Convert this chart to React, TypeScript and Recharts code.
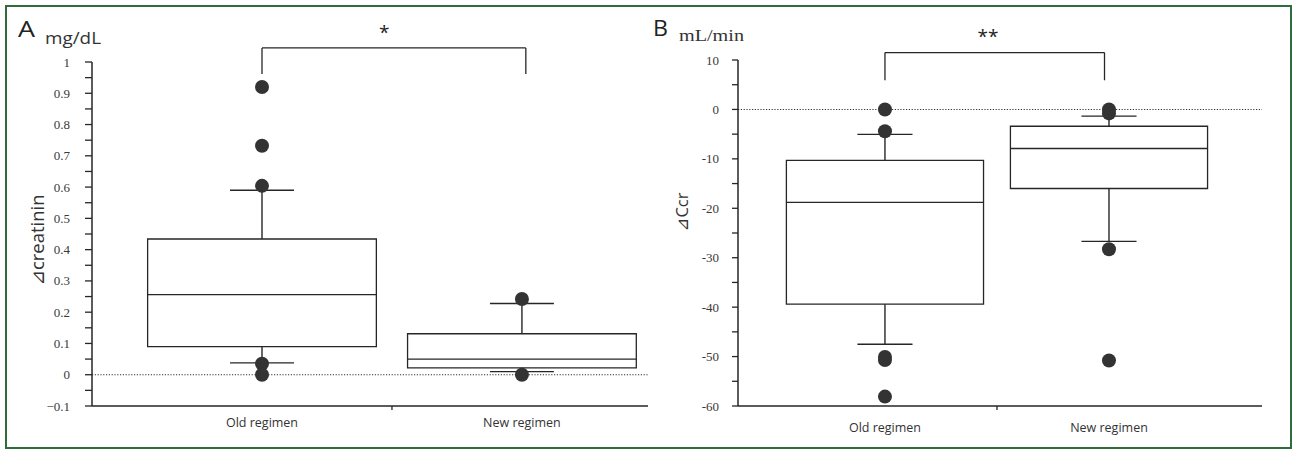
import React from 'react';
import { ComposedChart, XAxis, YAxis, Scatter, ReferenceArea, ReferenceLine, ReferenceDot } from 'recharts';

// ---------- shared categories ----------
const categories = ['Old regimen', 'New regimen'];
const categoryX = [1, 2];
const xTicks = [1, 1.5, 2];

// ---------- Panel A: Δcreatinin (mg/dL) ----------
const creatLow = [0.038, 0.01];
const creatQ1 = [0.09, 0.022];
const creatMed = [0.256, 0.05];
const creatQ3 = [0.434, 0.131];
const creatHigh = [0.59, 0.228];
const creatOutliers = [
  [0.92, 0.732, 0.604, 0.035, 0.0],
  [0.242, 0.0],
];
const creatMajor = [-0.1, 0, 0.1, 0.2, 0.3, 0.4, 0.5, 0.6, 0.7, 0.8, 0.9, 1];
const creatMajorLabels = ['\u22120.1', '0', '0.1', '0.2', '0.3', '0.4', '0.5', '0.6', '0.7', '0.8', '0.9', '1'];
const creatMinor = [-0.05, 0.05, 0.15, 0.25, 0.35, 0.45, 0.55, 0.65, 0.75, 0.85, 0.95];
const creatBracket = { x1: 1.0, x2: 2.015, top: 1.045, leg: 0.962, starX: 1.47, starY: 1.095, text: '*' };

// ---------- Panel B: ΔCcr (mL/min) ----------
const ccrLow = [-47.5, -26.7];
const ccrQ1 = [-39.4, -16.0];
const ccrMed = [-18.8, -7.9];
const ccrQ3 = [-10.3, -3.4];
const ccrHigh = [-5.05, -1.35];
const ccrOutliers = [
  [0, -4.4, -50.1, -50.7, -58.1],
  [0, -0.8, -28.3, -50.8],
];
const ccrMajor = [-60, -50, -40, -30, -20, -10, 0, 10];
const ccrMajorLabels = ['-60', '-50', '-40', '-30', '-20', '-10', '0', '10'];
const ccrMinor = [-55, -45, -35, -25, -15, -5, 5];
const ccrBracket = { x1: 1.0, x2: 1.98, top: 11.5, leg: 5.9, starX: 1.46, starY: 14.8, text: '**' };

// ---------- styles ----------
const BOX_HW = 0.44;
const CAP_HW = 0.123;
const INK = '#262626';
const DOT = '#333';
const SANS = '"Open Sans", "Noto Sans", "DejaVu Sans", sans-serif';
const SERIF = '"Liberation Serif", "DejaVu Serif", serif';

type PanelProps = {
  left: number;
  width: number;
  top: number;
  yAxisWidth: number;
  right: number;
  xDomain: [number, number];
  yDomain: [number, number];
  low: number[];
  q1: number[];
  med: number[];
  q3: number[];
  high: number[];
  outliers: number[][];
  major: number[];
  majorLabels: string[];
  minor: number[];
  bracket: { x1: number; x2: number; top: number; leg: number; starX: number; starY: number; text: string };
  tickSize: number;
  tickMargin: number;
  labelDy: number;
};

function Panel(p: PanelProps) {
  const outlierData = p.outliers.flatMap((arr, i) => arr.map((v) => ({ x: categoryX[i], y: v })));
  const yTicks = [...p.major, ...p.minor].sort((a, b) => a - b);
  const labelFor = (v: number) => {
    const idx = p.major.findIndex((m) => Math.abs(m - v) < 1e-9);
    return idx >= 0 ? p.majorLabels[idx] : null;
  };

  const YTick = (props: any) => {
    const { x, y, payload } = props;
    const lbl = labelFor(payload.value);
    if (lbl === null) return <g />;
    return (
      <text x={x} y={y} textAnchor="end" dominantBaseline="central" fontFamily={SERIF} fontSize={13} fill="#3a3a3a">
        {lbl}
      </text>
    );
  };

  const XTick = (props: any) => {
    const { x, y, payload } = props;
    const v = payload.value;
    if (Math.abs(v - 1.5) < 1e-9) {
      return <line x1={x} x2={x} y1={y - 4} y2={y} stroke={INK} strokeWidth={1.3} />;
    }
    const idx = categoryX.findIndex((c) => Math.abs(c - v) < 1e-9);
    return (
      <text x={x} y={y + p.labelDy} textAnchor="middle" dominantBaseline="central" fontFamily={SANS} fontSize={12.5} fill="#333">
        {categories[idx]}
      </text>
    );
  };

  const b = p.bracket;
  const lw = 1.4;

  return (
    <div style={{ position: 'absolute', left: p.left, top: 0, width: p.width, height: 450 }}>
      <ComposedChart width={p.width} height={450} margin={{ top: p.top, right: p.right, bottom: 14, left: 0 }}>
        <XAxis
          type="number"
          dataKey="x"
          domain={p.xDomain}
          allowDataOverflow
          ticks={xTicks}
          interval={0}
          tickLine={false}
          tickSize={4}
          tickMargin={0}
          height={30}
          axisLine={{ stroke: INK, strokeWidth: 1.5 }}
          tick={<XTick />}
        />
        <YAxis
          type="number"
          dataKey="y"
          domain={p.yDomain}
          allowDataOverflow
          ticks={yTicks}
          interval={0}
          width={p.yAxisWidth}
          tickSize={p.tickSize}
          tickMargin={p.tickMargin}
          tickLine={{ stroke: INK, strokeWidth: 1.3 }}
          axisLine={{ stroke: INK, strokeWidth: 1.5 }}
          tick={<YTick />}
        />
        <ReferenceLine y={0} stroke="#333" strokeWidth={1.1} strokeDasharray="1.2 1.6" ifOverflow="visible" />
        {categoryX.map((cx, i) => (
          <ReferenceLine key={`wu${i}`} segment={[{ x: cx, y: p.q3[i] }, { x: cx, y: p.high[i] }]} stroke={INK} strokeWidth={lw} ifOverflow="visible" />
        ))}
        {categoryX.map((cx, i) => (
          <ReferenceLine key={`wl${i}`} segment={[{ x: cx, y: p.q1[i] }, { x: cx, y: p.low[i] }]} stroke={INK} strokeWidth={lw} ifOverflow="visible" />
        ))}
        {categoryX.map((cx, i) => (
          <ReferenceLine key={`cu${i}`} segment={[{ x: cx - CAP_HW, y: p.high[i] }, { x: cx + CAP_HW, y: p.high[i] }]} stroke={INK} strokeWidth={lw} ifOverflow="visible" />
        ))}
        {categoryX.map((cx, i) => (
          <ReferenceLine key={`cl${i}`} segment={[{ x: cx - CAP_HW, y: p.low[i] }, { x: cx + CAP_HW, y: p.low[i] }]} stroke={INK} strokeWidth={lw} ifOverflow="visible" />
        ))}
        {categoryX.map((cx, i) => (
          <ReferenceArea key={`box${i}`} x1={cx - BOX_HW} x2={cx + BOX_HW} y1={p.q1[i]} y2={p.q3[i]} fill="#fff" fillOpacity={1} stroke={INK} strokeWidth={1.3} ifOverflow="visible" />
        ))}
        {categoryX.map((cx, i) => (
          <ReferenceLine key={`md${i}`} segment={[{ x: cx - BOX_HW, y: p.med[i] }, { x: cx + BOX_HW, y: p.med[i] }]} stroke={INK} strokeWidth={1.3} ifOverflow="visible" />
        ))}
        <ReferenceLine segment={[{ x: b.x1, y: b.leg }, { x: b.x1, y: b.top }]} stroke={INK} strokeWidth={1.3} ifOverflow="visible" />
        <ReferenceLine segment={[{ x: b.x1, y: b.top }, { x: b.x2, y: b.top }]} stroke={INK} strokeWidth={1.3} ifOverflow="visible" />
        <ReferenceLine segment={[{ x: b.x2, y: b.top }, { x: b.x2, y: b.leg }]} stroke={INK} strokeWidth={1.3} ifOverflow="visible" />
        <ReferenceDot
          x={b.starX}
          y={b.starY}
          r={0}
          ifOverflow="visible"
          shape={(sp: any) => (
            <text x={sp.cx} y={sp.cy} textAnchor="middle" dominantBaseline="central" fontFamily={SANS} fontSize={19} fill="#222">
              {b.text}
            </text>
          )}
        />
        <Scatter
          data={outlierData}
          dataKey="y"
          isAnimationActive={false}
          shape={(sp: any) => <circle cx={sp.cx} cy={sp.cy} r={7} fill={DOT} />}
        />
      </ComposedChart>
    </div>
  );
}

export default function App() {
  return (
    <div style={{ position: 'absolute', left: 0, top: 0, width: 1293, height: 450, background: '#fff', overflow: 'hidden' }}>
      <Panel
        left={0}
        width={650}
        top={62}
        yAxisWidth={92}
        right={2}
        xDomain={[0.346, 2.485]}
        yDomain={[-0.1, 1]}
        low={creatLow}
        q1={creatQ1}
        med={creatMed}
        q3={creatQ3}
        high={creatHigh}
        outliers={creatOutliers}
        major={creatMajor}
        majorLabels={creatMajorLabels}
        minor={creatMinor}
        bracket={creatBracket}
        tickSize={7}
        tickMargin={15}
        labelDy={12}
      />
      <Panel
        left={640}
        width={653}
        top={60}
        yAxisWidth={98}
        right={31}
        xDomain={[0.344, 2.683]}
        yDomain={[-60, 10]}
        low={ccrLow}
        q1={ccrQ1}
        med={ccrMed}
        q3={ccrQ3}
        high={ccrHigh}
        outliers={ccrOutliers}
        major={ccrMajor}
        majorLabels={ccrMajorLabels}
        minor={ccrMinor}
        bracket={ccrBracket}
        tickSize={6}
        tickMargin={13}
        labelDy={17}
      />
      <svg width={1293} height={450} style={{ position: 'absolute', left: 0, top: 0, pointerEvents: 'none' }}>
        <text x={18} y={37} fontFamily={SANS} fontSize={22} fill="#222" textLength={17} lengthAdjust="spacingAndGlyphs">A</text>
        <text x={45} y={44} fontFamily={SANS} fontSize={15.5} fill="#333" textLength={56} lengthAdjust="spacingAndGlyphs">mg/dL</text>
        <text x={653} y={36} fontFamily={SANS} fontSize={21} fill="#222" textLength={15} lengthAdjust="spacingAndGlyphs">B</text>
        <text x={679} y={41} fontFamily={SERIF} fontSize={16} fill="#333" textLength={65} lengthAdjust="spacingAndGlyphs">mL/min</text>
        <text x={36} y={240} transform="rotate(-90 36 240)" textAnchor="middle" dominantBaseline="central" fontFamily={SANS} fontSize={18.5} fill="#333">⊿creatinin</text>
        <text x={681} y={212} transform="rotate(-90 681 212)" textAnchor="middle" dominantBaseline="central" fontFamily={SANS} fontSize={16.5} fill="#333">⊿Ccr</text>
      </svg>
      <div style={{ position: 'absolute', left: 5, top: 5, width: 1287, height: 444, boxSizing: 'border-box', border: '2.5px solid #2f6e3b', pointerEvents: 'none' }} />
    </div>
  );
}
